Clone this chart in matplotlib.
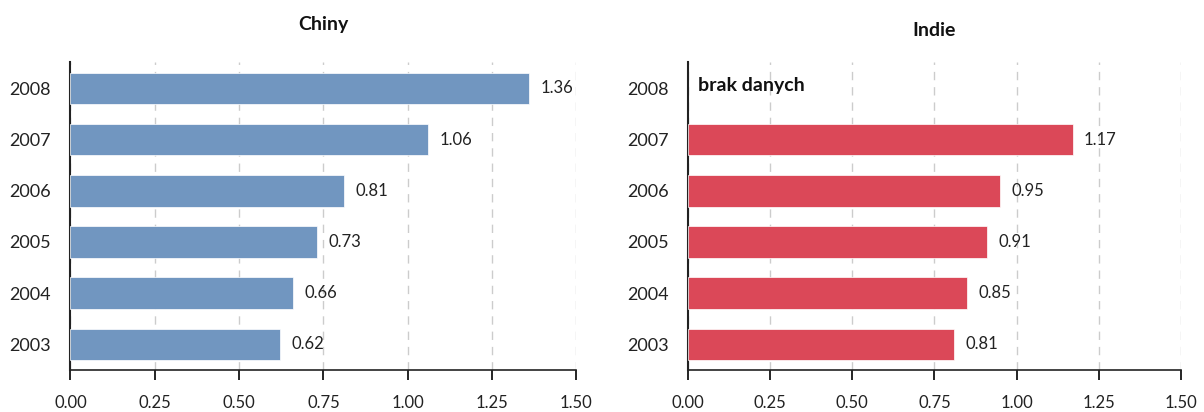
import numpy as np
import matplotlib.pyplot as plt

plt.rcParams['font.family'] = ['Lato', 'DejaVu Sans']

years = ['2003', '2004', '2005', '2006', '2007', '2008']
chiny = [0.62, 0.66, 0.73, 0.81, 1.06, 1.36]
indie = [0.81, 0.85, 0.91, 0.95, 1.17, None]
xticks = [0.0, 0.25, 0.5, 0.75, 1.0, 1.25, 1.5]

blue = '#7196c0'
red = '#db4858'

fig = plt.figure(figsize=(12.04, 4.12), dpi=100)
ax1 = fig.add_axes([0.0585, 0.102, 0.4202, 0.748])
ax2 = fig.add_axes([0.5714, 0.102, 0.4095, 0.748])


def draw(ax, values, color, title, title_y):
    pos = np.arange(len(years))
    for i, v in enumerate(values):
        if v is None:
            continue
        ax.barh(pos[i], v, height=0.62, color=color, edgecolor='white',
                linewidth=0.5, zorder=3)
        ax.text(v + 0.035, pos[i], f'{v:.2f}', va='center', ha='left',
                fontsize=12, color='#222222', zorder=4)
    ax.set_xlim(0, 1.5)
    ax.set_ylim(-0.5, 5.52)
    ax.set_xticks(xticks)
    ax.set_xticklabels([f'{t:.2f}' for t in xticks], fontsize=12, color='#222222')
    ax.set_yticks(pos)
    ax.set_yticklabels(years, fontsize=13, color='#222222')
    ax.tick_params(axis='y', length=0, pad=14)
    ax.tick_params(axis='x', length=7, width=1.2, pad=11, direction='out')
    ax.grid(axis='x', linestyle=(0, (6, 5)), color='#cccccc', linewidth=1, zorder=0)
    for s in ['top', 'right']:
        ax.spines[s].set_visible(False)
    ax.spines['left'].set_linewidth(1.5)
    ax.spines['bottom'].set_linewidth(1.2)
    ax.spines['left'].set_color('#222222')
    ax.spines['bottom'].set_color('#222222')
    ax.text(0.5, title_y, title, transform=ax.transAxes, fontsize=14,
            fontweight='bold', ha='center', va='center', color='#111111')


draw(ax1, chiny, blue, 'Chiny', 1.12)
draw(ax2, indie, red, 'Indie', 1.10)
ax2.text(0.03, 5.05, 'brak danych', fontsize=14, fontweight='bold',
         va='center', ha='left', color='#111111')

fig.savefig('out.png', dpi=100)
